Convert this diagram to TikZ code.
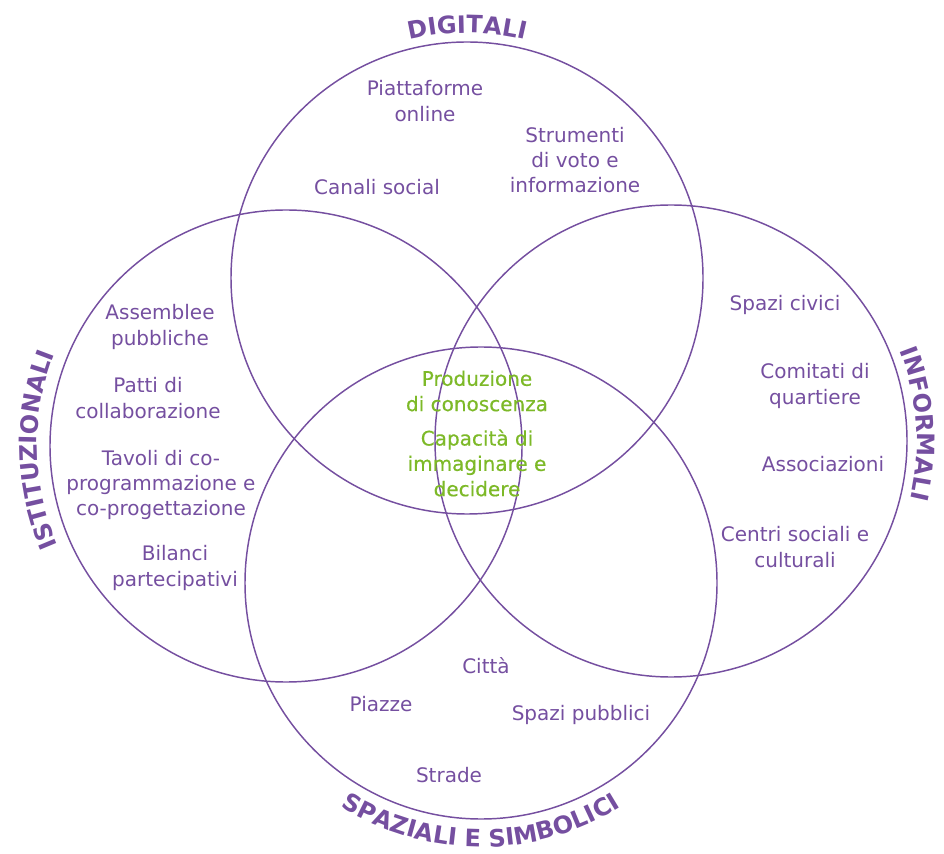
\documentclass[tikz,border=0pt]{standalone}
\usepackage{fontspec}
\setmainfont{DejaVu Sans}
\newfontfamily\corefont[FakeBold=0.5]{DejaVu Sans}
\usetikzlibrary{decorations.text}
\definecolor{vpurple}{RGB}{117,79,160}
\definecolor{vgreen}{RGB}{125,185,40}
\newcommand\headfont{\fontsize{18}{20}\selectfont\bfseries}

\begin{document}
\begin{tikzpicture}[x=0.75pt,y=0.75pt,
		ring/.style={draw=vpurple,line width=1.1pt},
		item node/.style={text=vpurple,align=center,inner sep=0pt,font=\fontsize{15}{19}\selectfont},
		core node/.style={item node,text=vgreen,font=\corefont\fontsize{15}{19}\selectfont},
		arc label/.style={decorate,decoration={text along path,text align=center,text color=vpurple,text={|\headfont|#1}}}]
		\useasboundingbox (0,0) rectangle (944,853);
		% cerchi
		\coordinate (T) at (467,575);
		\coordinate (L) at (286,407);
		\coordinate (R) at (671,412);
		\coordinate (B) at (481,270);
		\draw[ring] (T) circle[radius=236];
		\draw[ring] (L) circle[radius=236];
		\draw[ring] (R) circle[radius=236];
		\draw[ring] (B) circle[radius=236];
		% titoli
		\path[arc label=DIGITALI] ([shift={(115:245)}]T) arc[start angle=115,end angle=65,radius=245];
		\path[arc label=ISTITUZIONALI] ([shift={(211:249)}]L) arc[start angle=211,end angle=151,radius=249];
		\path[arc label=INFORMALI] ([shift={(34:246)}]R) arc[start angle=34,end angle=-26,radius=246];
		\path[arc label=SPAZIALI E SIMBOLICI] ([shift={(234:264)}]B) arc[start angle=234,end angle=306,radius=264];
		% digitali
		\node[item node] (plat) at (425,752) {Piattaforme\\online};
		\node[item node] (voto) at (575,693) {Strumenti\\di voto e\\informazione};
		\node[item node] (social) at (377,666) {Canali social};
		% istituzionali
		\node[item node] (assemb) at (160,526) {Assemblee\\pubbliche};
		\node[item node] (patti) at (148,455) {Patti di\\collaborazione};
		\node[item node] (tavoli) at (161,368) {Tavoli di co-\\programmazione e\\co-progettazione};
		\node[item node] (bilanci) at (175,285) {Bilanci\\partecipativi};
		% informali
		\node[item node] (civici) at (785,548) {Spazi civici};
		\node[item node] (comitati) at (815,467) {Comitati di\\quartiere};
		\node[item node] (assoc) at (823,389) {Associazioni};
		\node[item node] (centri) at (795,306) {Centri sociali e\\culturali};
		% spaziali
		\node[item node] (citta) at (486,187) {Città};
		\node[item node] (piazze) at (381,149) {Piazze};
		\node[item node] (pubblici) at (581,138) {Spazi pubblici};
		\node[item node] (strade) at (449,78) {Strade};
		% centro
		\node[core node] (prod) at (477,462) {Produzione\\di conoscenza};
		\node[core node] (capac) at (477,390) {Capacità di\\immaginare e\\decidere};
\end{tikzpicture}
\end{document}
